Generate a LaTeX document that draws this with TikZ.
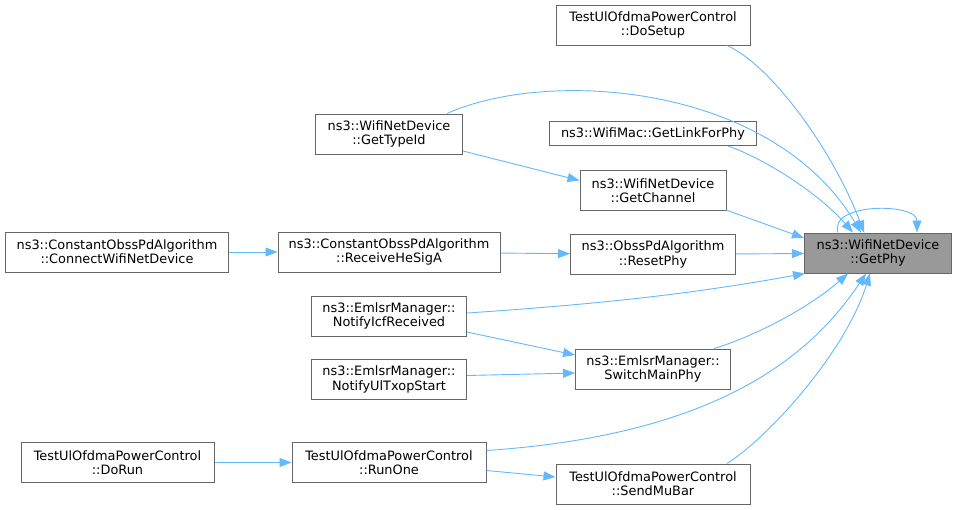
\documentclass[tikz,border=0pt]{standalone}
\usepackage{fontspec}
\setmainfont{DejaVu Sans}
\usetikzlibrary{arrows.meta}
\definecolor{edgeblue}{HTML}{63B8FF}
\definecolor{boxline}{HTML}{666666}
\definecolor{curfill}{HTML}{999999}

\begin{document}
\begin{tikzpicture}[x=1pt,y=-1pt,
	fn/.style={draw=boxline,line width=1pt,align=center,inner sep=0pt,minimum height=40pt,font=\fontsize{12.9}{14.3}\selectfont},
	call/.style={draw=edgeblue,line width=0.9pt,-{Triangle[length=12pt,width=9pt]}}]
				\useasboundingbox (0,0) rectangle (957,509);
				\node[fn,fill=curfill,minimum width=147pt] (getphy) at (878,253) {ns3::WifiNetDevice\\::GetPhy};
				\node[fn,minimum width=194pt] (dosetup) at (653,25) {TestUlOfdmaPowerControl\\::DoSetup};
				\node[fn,minimum width=147pt] (gettypeid) at (389,134) {ns3::WifiNetDevice\\::GetTypeId};
				\node[fn,minimum width=207pt,minimum height=24pt] (getlinkforphy) at (653,133.5) {ns3::WifiMac::GetLinkForPhy};
				\node[fn,minimum width=146pt] (getchannel) at (653,190.5) {ns3::WifiNetDevice\\::GetChannel};
				\node[fn,minimum width=165pt] (resetphy) at (653,254.5) {ns3::ObssPdAlgorithm\\::ResetPhy};
				\node[fn,minimum width=222pt] (receivehesiga) at (389,252) {ns3::ConstantObssPdAlgorithm\\::ReceiveHeSigA};
				\node[fn,minimum width=223pt] (connectwifi) at (117,252) {ns3::ConstantObssPdAlgorithm\\::ConnectWifiNetDevice};
				\node[fn,minimum width=155pt] (notifyicf) at (389,316) {ns3::EmlsrManager::\\NotifyIcfReceived};
				\node[fn,minimum width=155pt] (notifyul) at (389,379.5) {ns3::EmlsrManager::\\NotifyUlTxopStart};
				\node[fn,minimum width=155pt] (switchmainphy) at (653,369) {ns3::EmlsrManager::\\SwitchMainPhy};
				\node[fn,minimum width=194pt] (runone) at (389,462.5) {TestUlOfdmaPowerControl\\::RunOne};
				\node[fn,minimum width=193pt] (dorun) at (117.5,462.5) {TestUlOfdmaPowerControl\\::DoRun};
				\node[fn,minimum width=194pt] (sendmubar) at (653,484) {TestUlOfdmaPowerControl\\::SendMuBar};
				\draw[call] ([xshift=74pt]dosetup.south) .. controls +(45,20) and +(-30,-80) .. ([xshift=-14pt]getphy.north);
				\draw[call] ([xshift=58pt]gettypeid.north) .. controls +(100,-45) and +(-90,-150) .. ([xshift=-17pt]getphy.north);
				\draw[call] ([yshift=-17pt]gettypeid.east) -- ([yshift=10pt]getchannel.west);
				\draw[call] ([xshift=75pt]getlinkforphy.south) .. controls +(35,12) and +(-35,-40) .. ([xshift=-25pt]getphy.north);
				\draw[call] ([xshift=73pt,yshift=1pt]getchannel.south) -- ([yshift=15pt]getphy.west);
				\draw[call] (connectwifi) -- (receivehesiga);
				\draw[call] (receivehesiga) -- (resetphy);
				\draw[call] (resetphy) -- (getphy);
				\draw[call] ([yshift=3pt]notifyicf.east) .. controls +(150,-10) and +(-100,18) .. ([xshift=1pt]getphy.south west);
				\draw[call] ([yshift=-16pt]notifyicf.east) -- ([yshift=14pt]switchmainphy.west);
				\draw[call] ([yshift=4pt]notifyul.east) -- ([yshift=-4pt]switchmainphy.west);
				\draw[call] ([xshift=61pt]switchmainphy.north) .. controls +(40,-12) and +(-40,35) .. ([xshift=-30pt]getphy.south);
				\draw[call] ([yshift=12pt]runone.east) .. controls +(220,-15) and +(-60,90) .. ([xshift=-12pt]getphy.south);
				\draw[call] ([yshift=-8pt]runone.east) -- ([yshift=7pt]sendmubar.west);
				\draw[call] (dorun) -- (runone);
				\draw[call] ([xshift=74pt]sendmubar.north) .. controls +(40,-25) and +(-25,80) .. ([xshift=-8pt]getphy.south);
				\draw[call] ([xshift=-40pt]getphy.north) .. controls +(-10,-30) and +(0,-30) .. ([xshift=39pt]getphy.north);
				\end{tikzpicture}
\end{document}
